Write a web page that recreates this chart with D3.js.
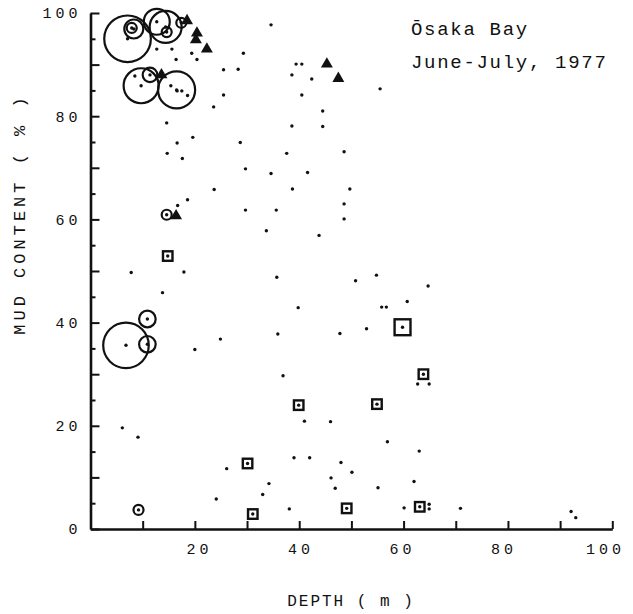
<!DOCTYPE html>
<html>
<head>
<meta charset="utf-8">
<script src="https://cdn.jsdelivr.net/npm/d3@7/dist/d3.min.js"></script>
<style>
  html, body { margin: 0; padding: 0; background: #fff; }
  svg { display: block; }
  text { font-family: "Liberation Mono", "DejaVu Sans Mono", monospace; fill: #111; }
</style>
</head>
<body>
<svg id="chart" width="633" height="614"></svg>
<script>
// ---------------- data ----------------
const titleLines = ["Ōsaka Bay", "June-July, 1977"];
const xTitle = "DEPTH ( m )";
const yTitle = "MUD CONTENT ( % )";
const xTickValues = [0, 10, 20, 30, 40, 50, 60, 70, 80, 90, 100];
const xLabelValues = [20, 40, 60, 80, 100];
const yTickValues = [0, 5, 10, 15, 20, 25, 30, 35, 40, 45, 50, 55, 60, 65, 70, 75, 80, 85, 90, 95, 100];
const yLabelValues = [0, 20, 40, 60, 80, 100];

// all sampling stations (plain dots)
const dotDepth = [12.7, 15.6, 16.4, 19.4, 20.4, 29.3, 25.5, 28.3, 25.5, 23.6, 8.5, 15.4, 16.6, 17.5, 18.6, 34.6,
  14.6, 16.6, 19.6, 28.7, 37.6, 14.7, 17.6, 29.7, 34.6, 23.7, 18.6, 16.7, 29.7, 35.6, 33.7,
  7.8, 17.9, 35.7, 13.8, 20.0, 24.9, 35.9, 36.9, 6.1, 9.1, 26.1, 34.2, 33.0, 24.1, 38.1,
  41.0, 46.0, 56.9, 63.0, 39.0, 42.0, 48.0, 50.1, 46.1, 62.0, 46.9, 55.1, 60.1, 64.9, 64.9, 70.9, 92.1, 93.0,
  39.4, 40.5, 38.6, 42.4, 55.5, 40.5, 44.5, 38.6, 44.5, 48.6, 41.6, 38.7, 49.7, 48.6, 48.6,
  43.8, 54.8, 50.8, 64.7, 39.8, 55.8, 56.7, 60.7, 52.9, 47.8, 62.7, 64.9];
const dotMud = [93.0, 93.0, 91.0, 92.2, 91.0, 92.2, 89.0, 89.1, 84.1, 81.8, 87.8, 85.9, 84.9, 84.9, 84.0, 97.7,
  78.7, 74.8, 75.9, 74.9, 72.8, 72.8, 71.8, 69.8, 68.9, 65.8, 63.8, 62.7, 61.8, 61.8, 57.8,
  49.7, 49.8, 48.8, 45.8, 34.8, 36.8, 37.8, 29.7, 19.6, 17.8, 11.7, 8.8, 6.7, 5.8, 3.9,
  20.9, 20.8, 16.9, 15.1, 13.8, 13.8, 12.9, 11.0, 9.9, 9.2, 7.9, 8.0, 4.1, 4.8, 3.9, 4.0, 3.4, 2.2,
  90.1, 90.1, 88.0, 87.2, 85.3, 84.1, 81.0, 78.1, 78.0, 73.1, 69.1, 65.9, 65.9, 63.0, 60.1,
  56.9, 49.2, 48.1, 47.1, 42.9, 43.0, 43.0, 44.1, 38.8, 37.9, 28.1, 28.1];

// open circles (size ~ abundance)
const circleDepth = [7.1, 8.3, 7.9, 12.7, 14.4, 14.6, 17.4, 9.7, 16.5, 11.4, 14.6, 10.9, 6.8, 10.9, 9.2];
const circleMud   = [95.0, 96.9, 97.1, 98.3, 97.3, 96.3, 98.1, 85.9, 85.1, 88.0, 60.9, 40.7, 35.6, 35.8, 3.7];
const circleValue = [87, 14.4, 4, 27, 41, 4, 4, 49, 55, 8.5, 4, 11, 83, 11, 4];

// open squares
const squareDepth = [14.8, 30.1, 31.1, 39.9, 54.9, 49.1, 63.1, 59.8, 63.8];
const squareMud   = [52.9, 12.7, 2.9, 24.0, 24.2, 4.0, 4.3, 39.1, 30.0];
const squareValue = [5, 5, 5, 5, 5, 5, 5, 14, 5];

// filled triangles
const triDepth = [18.5, 20.4, 20.2, 22.3, 45.3, 47.5, 16.4, 13.6];
const triMud   = [98.5, 96.1, 94.8, 93.0, 90.1, 87.3, 60.7, 88.0];

// ---------------- drawing ----------------
const svg = d3.select("#chart");
const x = d3.scaleLinear().domain([0, 100]).range([90.5, 612.3]);
const xLab = d3.scaleLinear().domain([0, 100]).range([95.5, 603]); // label placement as printed
const y = d3.scaleLinear().domain([0, 100]).range([529, 13]);
const rScale = d3.scaleSqrt().domain([0, 100]).range([0, 25]);
const sqScale = d3.scaleSqrt().domain([0, 5]).range([0, 9.5]);

const FONT = "'Liberation Mono', monospace";

// bottom axis ticks
const gx = svg.append("g").attr("transform", "translate(0,529)")
  .call(d3.axisBottom(x).tickValues(xTickValues).tickFormat("")
    .tickSizeInner(-8).tickSizeOuter(0));
gx.select(".domain").attr("stroke", "#111").attr("stroke-width", 2.6);
gx.selectAll(".tick line").attr("stroke", "#111").attr("stroke-width", 2);

// bottom axis labels
const gxl = svg.append("g").attr("transform", "translate(0,529)")
  .call(d3.axisBottom(xLab).tickValues(xLabelValues).tickSize(0).tickPadding(14));
gxl.select(".domain").remove();
gxl.selectAll(".tick text").attr("font-size", 15).attr("letter-spacing", 4).attr("dx", 2)
  .style("font-family", FONT).attr("fill", "#111");

// left axis
const gy = svg.append("g").attr("transform", "translate(90.5,0)")
  .call(d3.axisLeft(y).tickValues(yTickValues)
    .tickFormat(d => (yLabelValues.includes(d) ? d : ""))
    .tickSizeInner(-9).tickSizeOuter(0).tickPadding(9));
gy.select(".domain").attr("stroke", "#111").attr("stroke-width", 2.6);
gy.selectAll(".tick line").attr("stroke", "#111").attr("stroke-width", 2)
  .attr("x2", d => (d % 10 === 0 ? 9 : 5));
gy.selectAll(".tick text").attr("font-size", 15).attr("letter-spacing", 4)
  .style("font-family", FONT).attr("fill", "#111");

// axis titles
svg.append("text")
  .attr("transform", "translate(25,216) rotate(-90)")
  .attr("text-anchor", "middle").attr("dx", 2)
  .attr("font-size", 17).attr("letter-spacing", 4)
  .text(yTitle);
svg.append("text")
  .attr("x", 350).attr("y", 606)
  .attr("text-anchor", "middle").attr("dx", 1)
  .attr("font-size", 16).attr("letter-spacing", 2)
  .text(xTitle);

// title
svg.selectAll("text.title").data(titleLines).enter().append("text")
  .attr("class", "title")
  .attr("x", 411).attr("y", (d, i) => 35 + i * 33)
  .attr("font-size", 19).attr("letter-spacing", 1.7)
  .text(d => d);

const plot = svg.append("g");

// station dots
const allDotDepth = dotDepth.concat(circleDepth, squareDepth);
const allDotMud = dotMud.concat(circleMud, squareMud);
plot.selectAll("circle.dot").data(allDotDepth).enter().append("circle")
  .attr("class", "dot")
  .attr("cx", d => x(d)).attr("cy", (d, i) => y(allDotMud[i]))
  .attr("r", 1.7).attr("fill", "#111");

// open circles
plot.selectAll("circle.ring").data(circleDepth).enter().append("circle")
  .attr("class", "ring")
  .attr("cx", d => x(d)).attr("cy", (d, i) => y(circleMud[i]))
  .attr("r", (d, i) => rScale(circleValue[i]))
  .attr("fill", "none").attr("stroke", "#111").attr("stroke-width", 2.2);

// open squares
plot.selectAll("rect.sq").data(squareDepth).enter().append("rect")
  .attr("class", "sq")
  .attr("x", (d, i) => x(d) - sqScale(squareValue[i]) / 2)
  .attr("y", (d, i) => y(squareMud[i]) - sqScale(squareValue[i]) / 2)
  .attr("width", (d, i) => sqScale(squareValue[i]))
  .attr("height", (d, i) => sqScale(squareValue[i]))
  .attr("fill", "none").attr("stroke", "#111").attr("stroke-width", 2.4);

// filled triangles
const tri = d3.symbol().type(d3.symbolTriangle).size(62);
plot.selectAll("path.tri").data(triDepth).enter().append("path")
  .attr("class", "tri")
  .attr("transform", (d, i) => `translate(${x(d)},${y(triMud[i])})`)
  .attr("d", tri).attr("fill", "#111");
</script>
</body>
</html>
